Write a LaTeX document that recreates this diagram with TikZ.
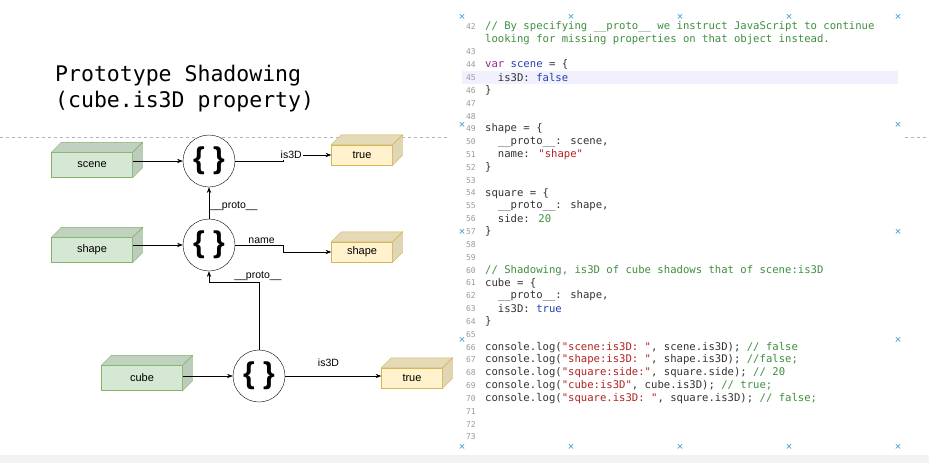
\documentclass[tikz,border=0pt]{standalone}
\usepackage{fontspec}
\setmainfont{Liberation Sans}
\newfontfamily\codefont{DejaVu Sans Mono}
\usetikzlibrary{arrows.meta,positioning,calc}
\definecolor{boxGreen}{HTML}{D5E8D4}
\definecolor{lineGreen}{HTML}{82B366}
\definecolor{boxYellow}{HTML}{FFF2CC}
\definecolor{lineYellow}{HTML}{D6B656}
\definecolor{cmtGreen}{HTML}{3F8F3F}
\definecolor{kwPurple}{HTML}{9B2393}
\definecolor{valBlue}{HTML}{2440B0}
\definecolor{strRed}{HTML}{B22222}
\definecolor{numGray}{HTML}{9A9A9A}
\definecolor{codeDark}{HTML}{333333}
\definecolor{markBlue}{HTML}{3A9AD9}
% side and top faces of a 3D box drawn round a named node
\newcommand{\boxfaces}[3]{%
  \draw[#3, fill=#2!90!black] (#1.north west) -- ++(10,-10) -- ($(#1.north east)+(10,-10)$) -- (#1.north east) -- cycle;
  \draw[#3, fill=#2!88!black] (#1.north east) -- ++(10,-10) -- ($(#1.south east)+(10,-10)$) -- (#1.south east) -- cycle;}
\newcommand{\codeline}[2]{\node[codetxt] at (485,{52+(#1-43)*12.83}) {#2};}
\begin{document}
\begin{tikzpicture}[x=1pt,y=-1pt,
    objbox/.style={rectangle, draw=lineGreen, fill=boxGreen, minimum width=81pt, minimum height=25pt, inner sep=0pt, font=\fontsize{11}{13}\selectfont},
    valbox/.style={rectangle, draw=lineYellow, fill=boxYellow, minimum width=61pt, minimum height=20pt, inner sep=0pt, font=\fontsize{11}{13}\selectfont},
    obj/.style={circle, draw, fill=white, minimum size=52pt, inner sep=0pt, font=\fontsize{30}{32}\selectfont\bfseries},
    arrow/.style={-Stealth, semithick},
    lbl/.style={font=\fontsize{10.5}{12}\selectfont, inner sep=1pt},
    codetxt/.style={anchor=west, inner sep=0pt, text=codeDark, font=\codefont\fontsize{10.6}{12}\selectfont},
    lnum/.style={anchor=east, inner sep=0pt, text=numGray, font=\codefont\fontsize{8}{10}\selectfont},
    xmark/.style={text=markBlue, font=\fontsize{11}{11}\selectfont, inner sep=0pt}
  ]
  \useasboundingbox (0,0) rectangle (929,463);
  \fill[white] (0,0) rectangle (929,463);
  \fill[gray!10] (0,455) rectangle (929,463);

  % title
  \node[anchor=west, inner sep=0pt, font=\codefont\fontsize{21.5}{26}\selectfont, align=left] (title) at (55,89) {Prototype Shadowing\\(cube.is3D property)};
  \draw[gray!60, dashed] (0,137) -- (450,137);
  \draw[gray!60, dashed] (905,137) -- (929,137);

  % code panel
  \fill[blue!6] (462,71) rectangle (898,84);
  \foreach \x in {462,571,680,789,898} {
    \node[xmark] at (\x,17) {×};
    \node[xmark] at (\x,447) {×};
  }
  \foreach \y in {125,232,340} {
    \node[xmark] at (462,\y) {×};
    \node[xmark] at (898,\y) {×};
  }
  \node[lnum] at (476,27) {42};
  \foreach \n in {43,...,73} {
    \node[lnum] at (476,{52+(\n-43)*12.83}) {\n};
  }
  \node[codetxt, text=cmtGreen] at (485,27) {// By specifying \_\_proto\_\_ we instruct JavaScript to continue};
  \node[codetxt, text=cmtGreen] at (485,40) {looking for missing properties on that object instead.};
  \codeline{44}{\textcolor{kwPurple}{var} \textcolor{valBlue}{scene} = \{}
  \codeline{45}{\ \ is3D: \textcolor{valBlue}{false}}
  \codeline{46}{\}}
  \codeline{49}{shape = \{}
  \codeline{50}{\ \ \_\_proto\_\_: scene,}
  \codeline{51}{\ \ name: \textcolor{strRed}{"shape"}}
  \codeline{52}{\}}
  \codeline{54}{square = \{}
  \codeline{55}{\ \ \_\_proto\_\_: shape,}
  \codeline{56}{\ \ side: \textcolor{cmtGreen}{20}}
  \codeline{57}{\}}
  \codeline{60}{\textcolor{cmtGreen}{// Shadowing, is3D of cube shadows that of scene:is3D}}
  \codeline{61}{cube = \{}
  \codeline{62}{\ \ \_\_proto\_\_: shape,}
  \codeline{63}{\ \ is3D: \textcolor{valBlue}{true}}
  \codeline{64}{\}}
  \codeline{66}{console.log(\textcolor{strRed}{"scene:is3D: "}, scene.is3D); \textcolor{cmtGreen}{// false}}
  \codeline{67}{console.log(\textcolor{strRed}{"shape:is3D: "}, shape.is3D); \textcolor{cmtGreen}{//false;}}
  \codeline{68}{console.log(\textcolor{strRed}{"square:side:"}, square.side); \textcolor{cmtGreen}{// 20}}
  \codeline{69}{console.log(\textcolor{strRed}{"cube:is3D"}, cube.is3D); \textcolor{cmtGreen}{// true;}}
  \codeline{70}{console.log(\textcolor{strRed}{"square.is3D: "}, square.is3D); \textcolor{cmtGreen}{// false;}}

  % objects
  \node[objbox] (scene) at (92,165) {scene};
  \node[objbox] (shape) at (92,250) {shape};
  \node[objbox] (cube) at (142,378) {cube};
  \boxfaces{scene}{boxGreen}{lineGreen}
  \boxfaces{shape}{boxGreen}{lineGreen}
  \boxfaces{cube}{boxGreen}{lineGreen}

  % values
  \node[valbox] (trueA) at (362,155) {true};
  \node[valbox] (shapeval) at (362,252) {shape};
  \node[valbox] (trueB) at (412,378) {true};
  \boxfaces{trueA}{boxYellow}{lineYellow}
  \boxfaces{shapeval}{boxYellow}{lineYellow}
  \boxfaces{trueB}{boxYellow}{lineYellow}

  % prototype objects
  \node[obj] (sceneobj) at (209,161) {\{ \}};
  \node[obj] (shapeobj) at (209,245) {\{ \}};
  \node[obj] (cubeobj) at (259,376) {\{ \}};

  % arrows
  \draw[arrow] (scene.east |- sceneobj) -- (sceneobj);
  \draw[arrow] (shape.east |- shapeobj) -- (shapeobj);
  \draw[arrow] (cube.east |- cubeobj) -- (cubeobj);
  \draw[arrow] (shapeobj) -- node[lbl, right, pos=0.4] {\_\_proto\_\_} (sceneobj);
  \draw[arrow] (cubeobj.north) -- ++(0,-68) -| node[lbl, right, pos=0.75, xshift=24pt] {\_\_proto\_\_} (shapeobj.south);
  \draw[arrow] (sceneobj.east) -- ++(48,0) |- node[lbl, fill=white, pos=0.5, xshift=8pt] {is3D} (trueA.west);
  \draw[arrow] (shapeobj.east) -- node[lbl, above, pos=0.55] {name} ++(48,0) |- (shapeval.west);
  \draw[arrow] (cubeobj.east) -- node[lbl, above=8pt, pos=0.45] {is3D} (trueB.west |- cubeobj.east);
\end{tikzpicture}
\end{document}
